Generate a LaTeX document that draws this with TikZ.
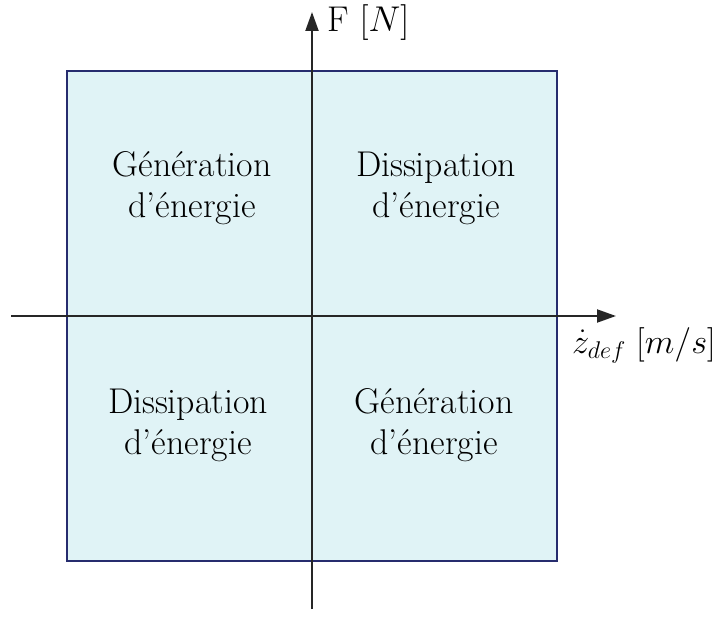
\RequirePackage{fix-cm}
\documentclass[tikz,border=0pt]{standalone}
\usetikzlibrary{arrows.meta}
\definecolor{boxfill}{HTML}{E0F3F6}
\definecolor{boxline}{HTML}{262C6E}
\begin{document}
\begin{tikzpicture}[x=1pt,y=-1pt,
  axis/.style={line width=2pt,draw=black!85,-{Triangle[length=19pt,width=13pt]}},
  quad/.style={align=center,font=\fontsize{35.8}{41}\selectfont,inner sep=0pt,anchor=base},
  lab/.style={font=\fontsize{35.8}{41}\selectfont,inner sep=0pt,anchor=base west}]
\useasboundingbox (0,0) rectangle (719,617);
\filldraw[fill=boxfill,draw=boxline,line width=2pt] (67,71) rectangle (557,561);
\coordinate (xs) at (11,316);
\coordinate (xe) at (616,316);
\coordinate (ys) at (312,609);
\coordinate (ye) at (312,12);
\draw[axis] (xs) -- (xe);
\draw[axis] (ys) -- (ye);
\node[lab] (fl) at (327,32) {F $[N]$};
\node[lab,anchor=base east,font=\fontsize{34.5}{41}\selectfont] (zl) at (716,353) {$\dot{z}_{def}$ $[m/s]$};
\node[quad] (q1) at (192,218) {Génération\\d'énergie};
\node[quad] (q2) at (436,218) {Dissipation\\d'énergie};
\node[quad] (q3) at (188,454) {Dissipation\\d'énergie};
\node[quad] (q4) at (434,454) {Génération\\d'énergie};
\end{tikzpicture}
\end{document}
